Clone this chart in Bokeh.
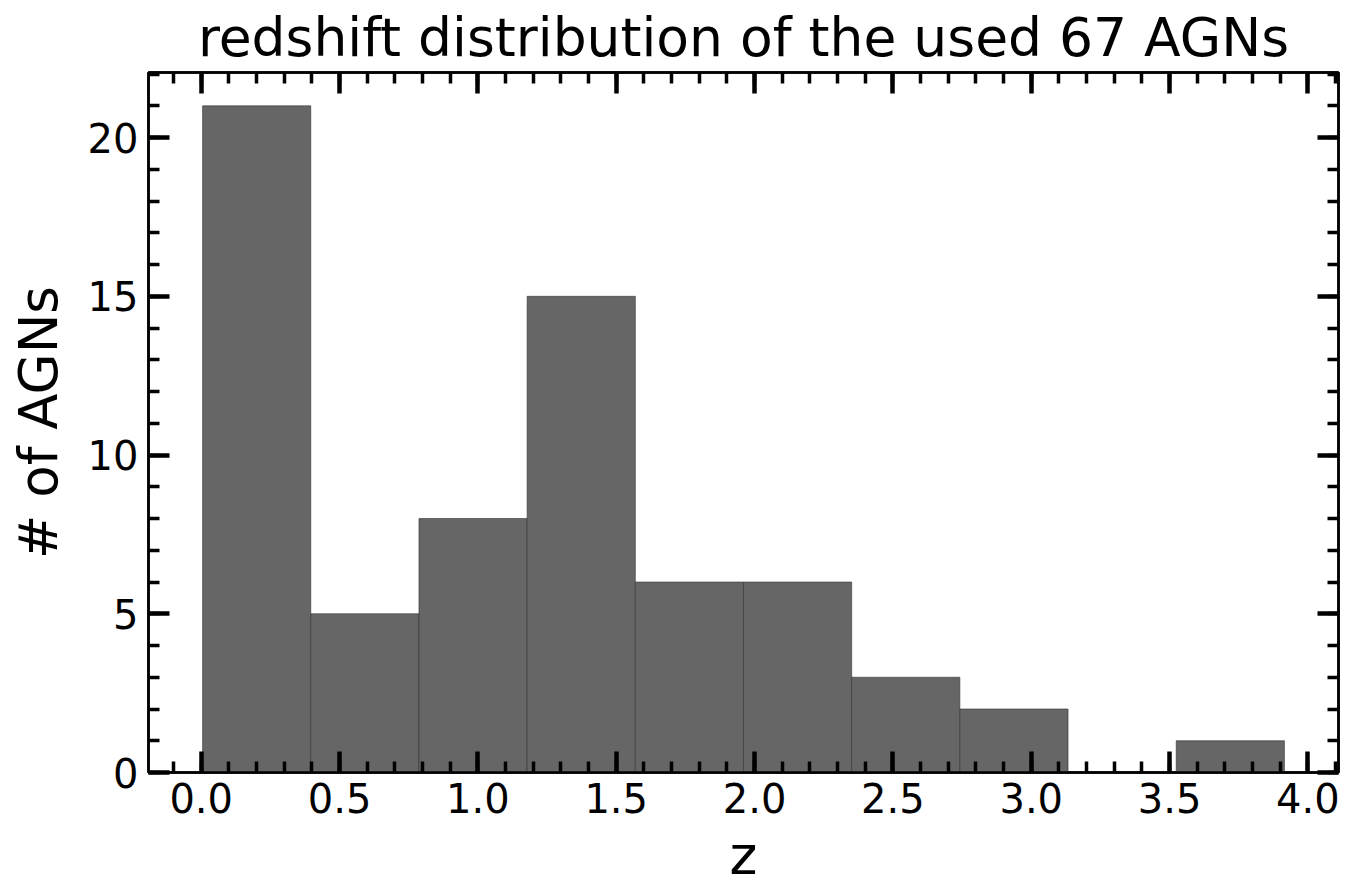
from bokeh.plotting import figure
from bokeh.models import (LinearAxis, SingleIntervalTicker, PrintfTickFormatter,
                          CustomJSTickFormatter, Range1d, ColumnDataSource)
from bokeh.embed import file_html
from bokeh.resources import INLINE

# Histogram of AGN redshifts (10 equal-width bins)
bin_edges = [0.005, 0.396, 0.787, 1.178, 1.569, 1.960, 2.351, 2.742, 3.133, 3.524, 3.915]
counts = [21, 5, 8, 15, 6, 6, 3, 2, 0, 1]

FONT = "DejaVu Sans"

src = ColumnDataSource(dict(left=bin_edges[:-1], right=bin_edges[1:],
                            top=counts, bottom=[0] * len(counts)))

p = figure(frame_width=1190, frame_height=700,
           output_backend="svg", toolbar_location=None,
           x_range=Range1d(-0.1905, 4.1105), y_range=Range1d(0, 22.05),
           x_axis_location=None, y_axis_location=None,
           min_border_left=148, min_border_right=7,
           min_border_top=10, min_border_bottom=0,
           title="redshift distribution of the used 67 AGNs")

p.quad(left="left", right="right", top="top", bottom="bottom", source=src,
       fill_color="#666666", line_color="#333333", line_width=0.6)

p.grid.visible = False
p.outline_line_color = "black"
p.outline_line_width = 2.5

p.title.text_font = FONT
p.title.text_font_size = "53.5px"
p.title.text_font_style = "normal"
p.title.align = "center"
p.title.text_color = "black"
p.title.standoff = 7


def style_axis(ax, labels=True):
    ax.axis_line_color = "black"
    ax.axis_line_width = 2.5
    ax.major_tick_in = 21
    ax.major_tick_out = 0
    ax.minor_tick_in = 11
    ax.minor_tick_out = 0
    ax.major_tick_line_width = 4.5
    ax.minor_tick_line_width = 3.5
    ax.major_tick_line_color = "black"
    ax.minor_tick_line_color = "black"
    ax.major_label_text_font = FONT
    ax.major_label_text_color = "black"
    ax.major_label_text_font_size = "40px"
    if labels:
        ax.major_label_standoff = 10
    else:
        ax.major_label_standoff = 0
        ax.formatter = CustomJSTickFormatter(code="return ''")
    ax.axis_label_text_font = FONT
    ax.axis_label_text_font_size = "53px"
    ax.axis_label_text_font_style = "normal"
    ax.axis_label_text_color = "black"


def x_ticker():
    return SingleIntervalTicker(interval=0.5, num_minor_ticks=5)


def y_ticker():
    return SingleIntervalTicker(interval=5, num_minor_ticks=5)


xb = LinearAxis(ticker=x_ticker(), formatter=PrintfTickFormatter(format="%.1f"),
                axis_label="z")
style_axis(xb)
xb.axis_label_standoff = 9
p.add_layout(xb, "below")

xt = LinearAxis(ticker=x_ticker())
style_axis(xt, labels=False)
p.add_layout(xt, "above")

yl = LinearAxis(ticker=y_ticker(), axis_label="# of AGNs")
style_axis(yl)
yl.axis_label_standoff = 16
p.add_layout(yl, "left")

yr = LinearAxis(ticker=y_ticker())
style_axis(yr, labels=False)
p.add_layout(yr, "right")

open("out.html", "w").write(file_html(p, INLINE))
